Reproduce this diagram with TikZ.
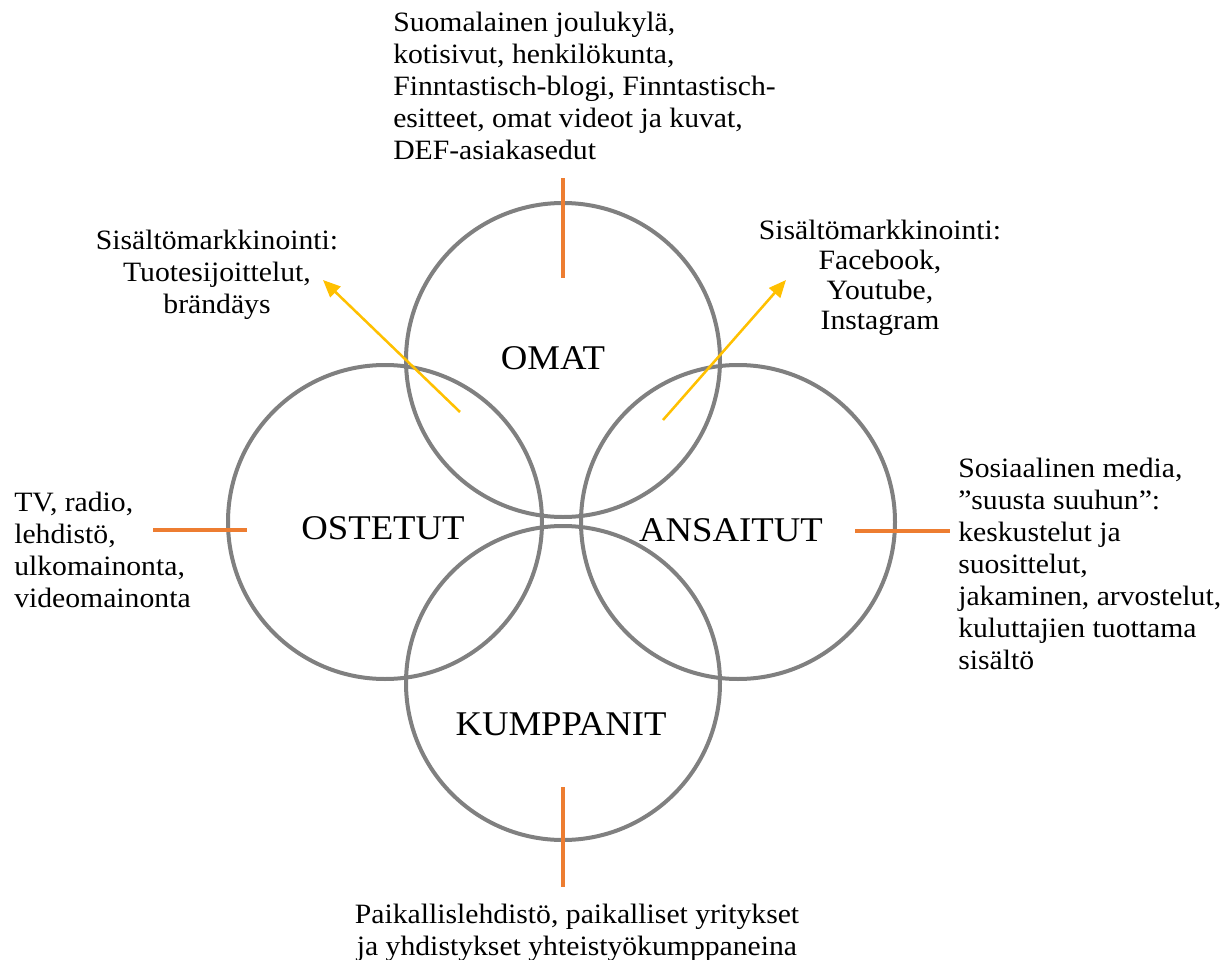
\documentclass[tikz,border=0pt]{standalone}
\usepackage{fontspec}
\setmainfont[FakeStretch=1.06]{Liberation Serif}
\usetikzlibrary{positioning,arrows.meta}
\definecolor{ringgray}{RGB}{128,128,128}
\definecolor{tickorange}{RGB}{237,125,49}
\definecolor{pointyellow}{RGB}{255,192,0}
\tikzset{
  ring/.style={
    shape = circle,
    draw = ringgray,
    line width = 3pt,
    minimum size = 235.5pt,
    inner sep = 0pt
  },
  ringlabel/.style={
    inner sep = 0pt,
    font = \fontsize{26}{30}\selectfont
  },
  tick/.style={
    draw = tickorange,
    line width = 2.6pt
  },
  pointer/.style={
    draw = pointyellow,
    line width = 1.9pt,
    -{Triangle[length=13pt,width=11pt]}
  },
  blurb/.style={
    inner sep = 0pt,
    font = \fontsize{21}{24}\selectfont
  },
}
\begin{document}
\begin{tikzpicture}[x=0.75pt,y=-0.75pt]
\useasboundingbox (0,0) rectangle (1222,960);
% the four rings
\node[ring] (omat) at (563,360) {};
\node[ring] (ostetut) at (385,522) {};
\node[ring] (ansaitut) at (738,522) {};
\node[ring] (kumppanit) at (563,683) {};
\node[ringlabel] (omat text) at (553,358) {OMAT};
\node[ringlabel] (ostetut text) at (383,528) {OSTETUT};
\node[ringlabel] (ansaitut text) at (731,530) {ANSAITUT};
\node[ringlabel] (kumppanit text) at (561,724) {KUMPPANIT};
% descriptions
\node[blurb, anchor=north west, align=left] (omat blurb) at (393,12)
  {Suomalainen joulukylä,\\kotisivut, henkilökunta,\\Finntastisch-blogi, Finntastisch-\\esitteet, omat videot ja kuvat,\\DEF-asiakasedut};
\node[blurb, anchor=north, align=center] (left blurb) at (217,230)
  {Sisältömarkkinointi:\\Tuotesijoittelut,\\brändäys};
\node[blurb, anchor=north, align=center, font=\fontsize{21}{22.5}\selectfont] (right blurb) at (880,220)
  {Sisältömarkkinointi:\\Facebook,\\Youtube,\\Instagram};
\node[blurb, anchor=north west, align=left] (ostetut blurb) at (14,492)
  {TV, radio,\\lehdistö,\\ulkomainonta,\\videomainonta};
\node[blurb, anchor=north west, align=left] (ansaitut blurb) at (958,458)
  {Sosiaalinen media,\\”suusta suuhun”:\\keskustelut ja\\suosittelut,\\jakaminen, arvostelut,\\kuluttajien tuottama\\sisältö};
\node[blurb, anchor=north, align=center] (kumppanit blurb) at (577,904)
  {Paikallislehdistö, paikalliset yritykset\\ja yhdistykset yhteistyökumppaneina};
% orange ticks
\coordinate (t1a) at (563,178); \coordinate (t1b) at (563,278);
\coordinate (t2a) at (153,530); \coordinate (t2b) at (247,530);
\coordinate (t3a) at (855,531); \coordinate (t3b) at (950,531);
\coordinate (t4a) at (563,787); \coordinate (t4b) at (563,887);
\foreach \n in {1,...,4}
  \draw[tick] (t\n a) -- (t\n b);
% yellow pointers
\coordinate (p1) at (460,412); \coordinate (p1 end) at (323,280);
\coordinate (p2) at (663,420); \coordinate (p2 end) at (786,280);
\draw[pointer] (p1) -- (p1 end);
\draw[pointer] (p2) -- (p2 end);
\end{tikzpicture}
\end{document}
